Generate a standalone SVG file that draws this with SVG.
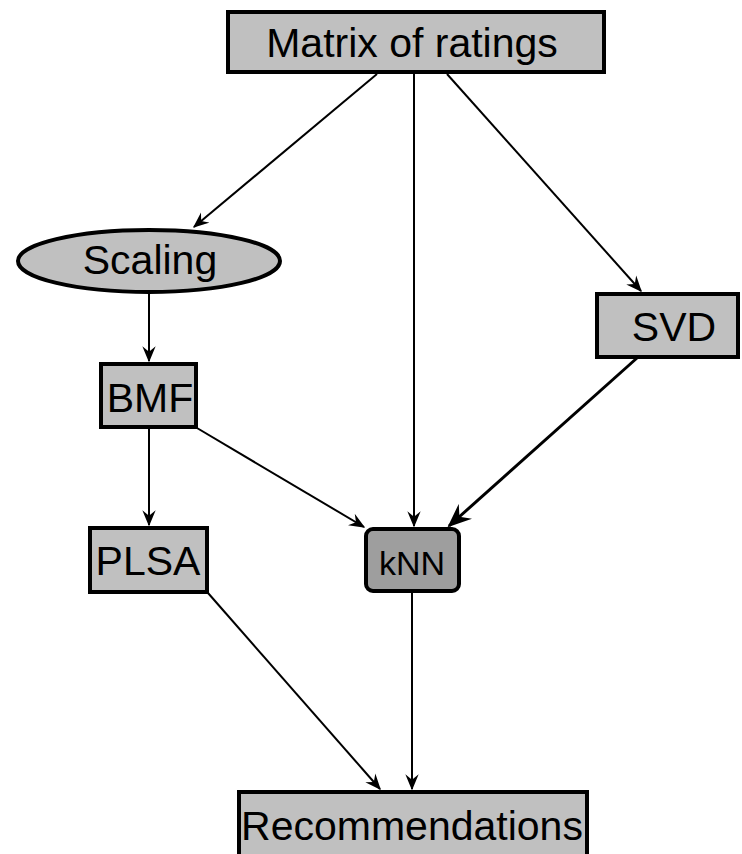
<svg xmlns="http://www.w3.org/2000/svg" width="742" height="854" viewBox="0 0 742 854">
<defs>
<style>
.box{fill:#c0c0c0;stroke:#000;stroke-width:4}
.dark{fill:#9e9e9e;stroke:#000;stroke-width:4}
.lbl{font-family:"Liberation Sans",Arial,sans-serif;font-size:41px;fill:#000;text-anchor:middle}
.edge{stroke:#000;stroke-width:2;fill:none;marker-end:url(#ah)}
</style>
<marker id="ah" viewBox="0 0 12 10" refX="11" refY="5" markerWidth="8" markerHeight="7" orient="auto" markerUnits="strokeWidth">
<path d="M0,0 L12,5 L0,10 L4,5 Z" fill="#000"/>
</marker>
</defs>
<rect width="742" height="854" fill="#fff"/>
<g id="connectors">
<line class="edge" x1="377" y1="74" x2="194" y2="227"/>
<line class="edge" x1="414" y1="72" x2="414" y2="526"/>
<line class="edge" x1="447" y1="74" x2="641" y2="291"/>
<line class="edge" x1="149" y1="292" x2="149" y2="361"/>
<line class="edge" x1="149" y1="428" x2="149" y2="525"/>
<line class="edge" x1="197" y1="428" x2="364" y2="527"/>
<line class="edge" x1="637" y1="358" x2="449" y2="526" style="stroke-width:3"/>
<line class="edge" x1="208" y1="593" x2="380" y2="789"/>
<line class="edge" x1="412" y1="592" x2="412" y2="789"/>
</g>
<g id="matrix">
<rect class="box" x="228" y="12" width="376" height="60"/>
<text class="lbl" x="412" y="57">Matrix of ratings</text>
</g>
<g id="scaling">
<ellipse class="box" cx="149" cy="261" rx="131" ry="31"/>
<text class="lbl" x="150" y="274">Scaling</text>
</g>
<g id="svd">
<rect class="box" x="597" y="294" width="141" height="63"/>
<text class="lbl" x="674" y="341">SVD</text>
</g>
<g id="bmf">
<rect class="box" x="101" y="364" width="95" height="63"/>
<text class="lbl" x="150" y="412">BMF</text>
</g>
<g id="plsa">
<rect class="box" x="90" y="528" width="117" height="64"/>
<text class="lbl" x="148" y="575">PLSA</text>
</g>
<g id="knn">
<rect class="dark" x="366" y="529" width="93" height="62" rx="7"/>
<text class="lbl" x="412" y="575" style="font-size:34px">kNN</text>
</g>
<g id="recommendations">
<rect class="box" x="239" y="792" width="348" height="70"/>
<text class="lbl" x="412" y="840">Recommendations</text>
</g>
</svg>
